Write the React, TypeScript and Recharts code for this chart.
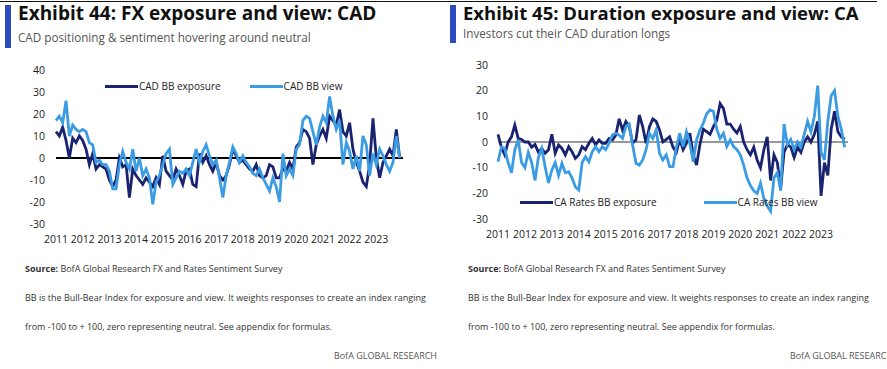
import React from "react";
import { LineChart, Line, XAxis, YAxis, ReferenceLine, Legend } from "recharts";

// year tick labels shared by both panels
const years = [2011, 2012, 2013, 2014, 2015, 2016, 2017, 2018, 2019, 2020, 2021, 2022, 2023];

// Exhibit 44, eight readings per year from 2011
const cadExposure = [
  12, 10, 14, 8, 0, 9, 7, 10,
  8, 4, -3, 2, -5, -3, -4, -5,
  -10, -13, -10, 0, -4, -3, -18, -5,
  -8, -10, -12, -9, -11, -13, -9, -12,
  1, -6, -8, -10, -5, -8, -12, -6,
  -5, -12, -13, 2, -2, 1, -3, -6,
  -2, -8, -10, -8, -3, 4, 1, -2,
  -1, -3, -5, -6, -3, -8, -9, -8,
  -3, -4, -9, -9, -5, -6, -2, -5,
  5, 7, 13, 12, 9, -3, 6, 10,
  13, 9, 19, 17, 15, 22, 12, 10,
  16, 4, -2, -6, -11, -13, -3, 18,
  0, -9, -2, 1, 4, 1, 13, 0,
];
const cadView = [
  17, 19, 16, 26, 10, 15, 13, 12,
  13, 12, 7, 6, -2, -1, -3, -3,
  -6, -14, -14, -3, 3, -2, -5, 4,
  -6, 0, -8, -5, -9, -21, -11, -8,
  -3, 2, 4, -12, -9, -6, -7, -5,
  -8, -2, 4, -2, 3, 6, 1, -3,
  -1, -9, -18, -8, -2, 5, 2, -2,
  1, -2, -4, -7, -8, -5, -9, -12,
  -15, -9, -13, -20, 2, -8, -5, -8,
  4, 6, 17, 19, 18, 12, 6, 14,
  19, 16, 28, 19, 13, 17, -3, 7,
  3, -5, 1, -6, 10, 6, -8, 2,
  -3, 4, 1, -3, -6, -2, 10, 0,
];

// Exhibit 45
const caRatesExposure = [
  3, -2, -5, 0, 2, 6.6, 1.4, 1,
  0, 0, -2, -1, -4, -2.5, -4.4, -3,
  3, -4.4, -1.2, -2.5, -5, -1.8, -3.8, -6.4,
  -5, -1.8, -3, -0.5, 1.4, -1.2, 0.8, -0.5,
  -0.5, 1.4, 0.8, 2.7, 9, 4.7, 8, 6,
  -0.5, 0.8, 10.5, 6, -0.5, 6, 9, 8,
  4.7, 0, 1, 2, -2, -4, 1, -3,
  -0.5, 3.4, -5, -9, -1, 5, 4, 3,
  6, 8.5, 15, 13, 7, 7, 5, 3.5,
  6, 0, -3, -5, -2, -7, -10, -3,
  2, -15, -5, -8, -18, -4, -1, -2,
  -6, -2, -4, 0, 2, 0, 3, 8,
  -21, -8, -13, 5, 12, 4, 2, 1,
];
const caRatesView = [
  -7.7, -2, -2.5, -8, -12, -3, 0.8, -8,
  -10, -4, -8, -15, -6, -2.5, -9.6, -16,
  -11, -8, -13, -8.3, -12, -11.6, -14, -17.5,
  -18.7, -8, -5.7, -7.7, -3.8, -1.8, -3.8, -1.8,
  -3, -0.5, 2.7, 3.4, 2.7, 1.4, 6, 7,
  -1.2, -8.3, -9, -7, -3, 3.4, 1.4, 4.7,
  -4.4, -7, -5, -9.6, -9.6, -2, 3.4, -1.8,
  4, -0.5, -7.7, 0.8, 4.7, 7.3, 11, 12.5,
  12, 5, 1.4, 3.4, -1.8, 0.8, -1.8, -3,
  -5, -9, -14, -17, -19, -20, -16, -22,
  -25, -27, -14, -12, -19, 7, -1, 1,
  -3, 0, -2, 3, 8, 4, 10, 22,
  -4, -7, 8, 18, 20, 10, 5, -2,
];

const DARK = "#1a2370";
const LIGHT = "#3c9ce3";
const FONT = "'Open Sans', sans-serif";

const cadData = cadExposure.map((v, i) => ({ t: 2011 + i / 8, exposure: v, view: cadView[i] }));
const ratesData = caRatesExposure.map((v, i) => ({ t: 2011 + i / 8, exposure: v, view: caRatesView[i] }));

const tickStyle = { fontSize: 10.5, fill: "#222", fontFamily: FONT };

function LegendRow(props: any) {
  const { payload, gap } = props;
  return (
    <div style={{ display: "flex", alignItems: "center", fontFamily: FONT, fontSize: 10, color: "#222", whiteSpace: "nowrap" }}>
      {(payload || []).map((p: any, k: number) => (
        <div key={k} style={{ display: "flex", alignItems: "center", marginLeft: k ? gap : 0 }}>
          <span style={{ display: "inline-block", width: 33, height: 3, background: p.color, marginRight: 1 }} />
          <span>{p.value}</span>
        </div>
      ))}
    </div>
  );
}

function Panel(props: any) {
  const { data, width, yWidth, right, yMin, yMax, yTicks, zeroColor, zeroWidth, names, legendLeft, legendTop, gap, yMargin } = props;
  return (
    <LineChart width={width} height={190} data={data} margin={{ top: 10, right: right, bottom: 0, left: 0 }}>
      <XAxis
        dataKey="t"
        type="number"
        domain={[2011, 2024]}
        ticks={years}
        interval={0}
        axisLine={false}
        tickLine={false}
        tickSize={0}
        tickMargin={12}
        height={26}
        tick={tickStyle}
      />
      <YAxis
        type="number"
        domain={[yMin, yMax]}
        ticks={yTicks}
        interval={0}
        axisLine={false}
        tickLine={false}
        tickSize={0}
        tickMargin={yMargin}
        width={yWidth}
        tick={tickStyle}
      />
      <ReferenceLine y={0} stroke={zeroColor} strokeWidth={zeroWidth} />
      <Legend
        layout="horizontal"
        verticalAlign="middle"
        align="center"
        wrapperStyle={{ left: legendLeft, top: legendTop, width: "auto" }}
        content={(p: any) => <LegendRow payload={p.payload} gap={gap} />}
      />
      <Line type="linear" dataKey="exposure" name={names[0]} stroke={DARK} strokeWidth={2.8} dot={false} isAnimationActive={false} />
      <Line type="linear" dataKey="view" name={names[1]} stroke={LIGHT} strokeWidth={2.8} dot={false} isAnimationActive={false} />
    </LineChart>
  );
}

function Header(props: any) {
  const { left, width, title, subtitle, barHeight, subTop, titleSize } = props;
  return (
    <>
      <div style={{ position: "absolute", left: left, top: 1, width: width, height: 1, background: "#111" }} />
      <div style={{ position: "absolute", left: left + 5, top: 5, width: 6, height: barHeight, background: "#2b4cc0" }} />
      <div style={{ position: "absolute", left: left + 18, top: 3, fontFamily: FONT, fontWeight: 700, fontSize: titleSize, lineHeight: "20px", color: "#111", whiteSpace: "nowrap" }}>
        {title}
      </div>
      <div style={{ position: "absolute", left: left + 18, top: subTop, fontFamily: FONT, fontSize: 13, lineHeight: "16px", color: "#555", whiteSpace: "nowrap", transform: "scaleX(0.9)", transformOrigin: "left center" }}>
        {subtitle}
      </div>
    </>
  );
}

function Footer(props: any) {
  const { left, brandRight } = props;
  const line = { position: "absolute" as const, left: left, fontFamily: FONT, fontSize: 9, lineHeight: "14px", color: "#333", whiteSpace: "nowrap" as const };
  return (
    <>
      <div style={{ ...line, top: 262 }}>
        <b>Source:</b> BofA Global Research FX and Rates Sentiment Survey
      </div>
      <div style={{ ...line, top: 291 }}>
        BB is the Bull-Bear Index for exposure and view. It weights responses to create an index ranging
      </div>
      <div style={{ ...line, top: 320 }}>from -100 to + 100, zero representing neutral. See appendix for formulas.</div>
      <div style={{ ...line, left: undefined, right: brandRight, top: 349, color: "#555" }}>BofA GLOBAL RESEARCH</div>
    </>
  );
}

export default function App() {
  return (
    <div style={{ position: "absolute", left: 0, top: 0, width: 887, height: 369, background: "#fff", overflow: "hidden" }}>
      <Header left={0} width={445} titleSize={19} title="Exhibit 44: FX exposure and view: CAD" subtitle="CAD positioning & sentiment hovering around neutral" barHeight={43} subTop={29} />
      <Header left={445} width={432} titleSize={18.5} title="Exhibit 45: Duration exposure and view: CA" subtitle="Investors cut their CAD duration longs" barHeight={38} subTop={25} />

      <div style={{ position: "absolute", left: 0, top: 60 }}>
        <Panel
          data={cadData}
          width={445}
          yWidth={56}
          right={42}
          yMin={-30}
          yMax={40}
          yTicks={[-30, -20, -10, 0, 10, 20, 30, 40]}
          zeroColor="#000"
          zeroWidth={2}
          names={["CAD BB exposure", "CAD BB view"]}
          legendLeft={105}
          legendTop={19}
          gap={29}
          yMargin={11}
        />
      </div>
      <div style={{ position: "absolute", left: 445, top: 55 }}>
        <Panel
          data={ratesData}
          width={442}
          yWidth={53}
          right={39}
          yMin={-30}
          yMax={30}
          yTicks={[-30, -20, -10, 0, 10, 20, 30]}
          zeroColor="#777"
          zeroWidth={1.5}
          names={["CA Rates BB exposure", "CA Rates BB view"]}
          legendLeft={75}
          legendTop={140}
          gap={47}
          yMargin={10}
        />
      </div>

      <Footer left={25} brandRight={887 - 437} />
      <Footer left={468} brandRight={-6} />
    </div>
  );
}
